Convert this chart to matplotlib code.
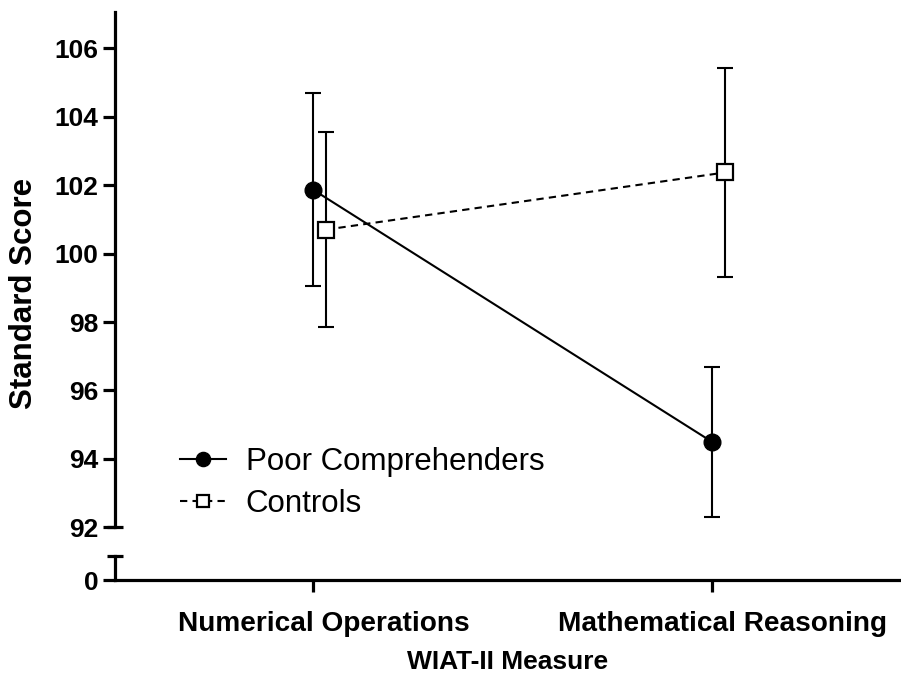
import matplotlib
matplotlib.use('Agg')
import matplotlib.pyplot as plt
import matplotlib.transforms as mtransforms

plt.rcParams['font.family'] = ['Liberation Sans', 'DejaVu Sans']

# ── Data ──
measures = ["Numerical Operations", "Mathematical Reasoning"]
poor_mean = [101.87, 94.50]
poor_err = [2.81, 2.19]
ctrl_mean = [100.70, 102.37]
ctrl_err = [2.86, 3.05]

x_pos = [0, 1]
ctrl_shift = 0.033
ctrl_pos = [p + ctrl_shift for p in x_pos]

fig = plt.figure(figsize=(9.01, 6.84), dpi=100)
W, H = 901, 684

def frac_rect(x0, y_top, x1, y_bot):
    return [x0 / W, 1 - y_bot / H, (x1 - x0) / W, (y_bot - y_top) / H]

ax = fig.add_axes(frac_rect(115, 12, 901, 527.3))
axb = fig.add_axes(frac_rect(115, 556, 901, 580), sharex=ax)

lw_axis = 2.3
for a in (ax, axb):
    for s in ('top', 'right'):
        a.spines[s].set_visible(False)
    a.spines['left'].set_linewidth(lw_axis)
    a.spines['bottom'].set_linewidth(lw_axis)
    a.tick_params(width=lw_axis, length=8.6, labelsize=19)
ax.spines['bottom'].set_visible(False)
ax.tick_params(axis='x', bottom=False, labelbottom=False)

# ── Upper segment: the data ──
ax.errorbar(x_pos, poor_mean, yerr=poor_err, fmt='none', ecolor='black',
            elinewidth=1.5, capsize=6, capthick=1.5, zorder=2)
ax.errorbar(ctrl_pos, ctrl_mean, yerr=ctrl_err, fmt='none', ecolor='black',
            elinewidth=1.5, capsize=6, capthick=1.5, zorder=2)
ax.plot(x_pos, poor_mean, '-', color='black', lw=1.5, marker='o',
        markersize=12, markerfacecolor='black', markeredgecolor='black',
        label='Poor Comprehenders', zorder=3)
ax.plot(ctrl_pos, ctrl_mean, color='black', lw=1.5, linestyle=(0, (3.5, 2.5)),
        marker='s', markersize=11, markerfacecolor='white',
        markeredgecolor='black', markeredgewidth=1.6,
        label='Controls', zorder=3)

ax.set_ylim(92, 107.06)
ax.set_yticks([92, 94, 96, 98, 100, 102, 104, 106])
ax.set_xlim(-0.496, 1.474)
for lab in ax.get_yticklabels():
    lab.set_fontweight('bold')

# ── Lower segment: the zero ──
axb.set_ylim(0, 1)
axb.set_yticks([0])
axb.set_yticklabels(['0'], fontweight='bold')
axb.set_xticks(x_pos)
axb.set_xticklabels(measures, fontweight='bold', fontsize=20.2)
axb.tick_params(axis='x', pad=14)
# category labels sit a little right of the ticks, as in the original
shift = mtransforms.ScaledTranslation(11 / 100, 0, fig.dpi_scale_trans)
for lab in axb.get_xticklabels():
    lab.set_transform(lab.get_transform() + shift)

# break caps on the y axis
cap = 8 / 786
ax.plot([-cap, cap], [92, 92], color='black', lw=lw_axis, clip_on=False,
        solid_capstyle='butt',
        transform=mtransforms.blended_transform_factory(ax.transAxes, ax.transData))
axb.plot([-cap, cap], [1, 1], color='black', lw=lw_axis, clip_on=False,
         solid_capstyle='butt',
         transform=mtransforms.blended_transform_factory(axb.transAxes, axb.transData))

# ── Labels ──
fig.text(24 / W, 1 - 293 / H, 'Standard Score', rotation=90, fontsize=22.5,
         fontweight='bold', ha='center', va='center')
fig.text(508 / W, 1 - 662 / H, 'WIAT-II Measure', fontsize=19,
         fontweight='bold', ha='center', va='center')

ax.legend(loc='center left', bbox_to_anchor=(0.083, 0.086), frameon=False,
          fontsize=22.5, handlelength=1.45, handletextpad=0.65, labelspacing=0.4,
          borderpad=0, borderaxespad=0, markerscale=0.85)

fig.savefig('out.png', dpi=100, facecolor='white')
